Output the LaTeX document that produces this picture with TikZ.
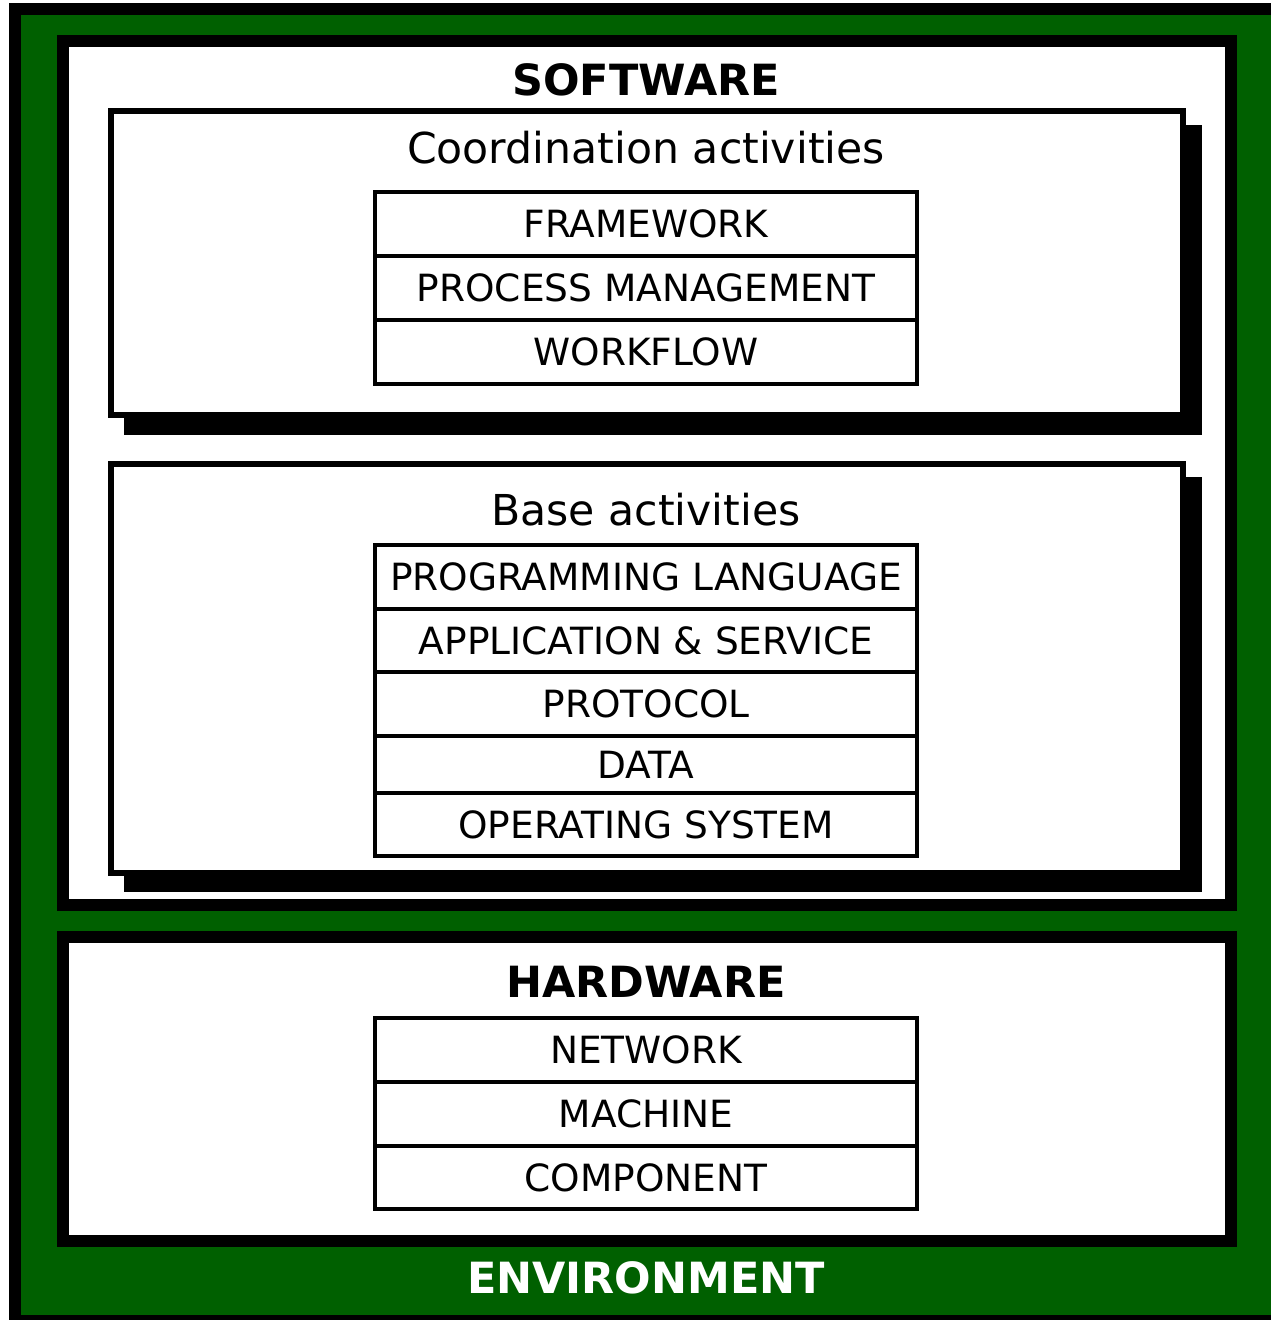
\documentclass[tikz,border=0pt]{standalone}
\usepackage{fontspec}
\setmainfont{DejaVu Sans}
\usetikzlibrary{positioning}
\definecolor{envgreen}{RGB}{0,96,0}

\tikzset{
  layer/.style={draw=black, fill=white, line width=12pt},
  group/.style={draw=black, fill=white, line width=6pt},
  groupshadow/.style={fill=black},
  row/.style={draw, line width=4pt, fill=white, minimum width=541.5pt, minimum height=64pt,
    inner sep=0pt, text height=27.3pt, text depth=0pt, font=\fontsize{37.5}{42}\selectfont},
  head/.style={inner sep=0pt, text height=31.3pt, text depth=0pt, font=\fontsize{43}{48}\selectfont\bfseries},
  title/.style={inner sep=0pt, text height=31pt, text depth=0pt, font=\fontsize{42.6}{48}\selectfont}
}

\begin{document}
\begin{tikzpicture}[x=1pt, y=-1pt]
   \useasboundingbox (0,0) rectangle (1271,1320);
   % environment
   \draw[line width=12pt, fill=envgreen] (15,9) rectangle (1295,1321);
   \node[head, text=white] (env) at (646,1277.5) {ENVIRONMENT};
   % software
   \draw[layer] (63,41) rectangle (1231,905);
   \node[head] (sw) at (646,80) {SOFTWARE};
   \fill[groupshadow] (124,125) rectangle (1202,435);
   \draw[group] (111,111) rectangle (1183,415);
   \node[title] (coord) at (646,148) {Coordination activities};
   \node[row] (fw) at (646,224) {FRAMEWORK};
   \node[row] (pm) at (646,288) {PROCESS MANAGEMENT};
   \node[row] (wf) at (646,352) {WORKFLOW};
   \fill[groupshadow] (124,477) rectangle (1202,892);
   \draw[group] (111,464) rectangle (1183,873);
   \node[title] (base) at (646,510) {Base activities};
   \node[row] (pl) at (646,577) {PROGRAMMING LANGUAGE};
   \node[row, minimum height=63pt] (as) at (646,640.5) {APPLICATION \& SERVICE};
   \node[row] (pr) at (646,704) {PROTOCOL};
   \node[row, minimum height=57pt] (da) at (646,764.5) {DATA};
   \node[row, minimum height=63pt] (os) at (646,824.5) {OPERATING SYSTEM};
   % hardware
   \draw[layer] (63,937) rectangle (1231,1241);
   \node[head] (hw) at (646,982) {HARDWARE};
   \node[row] (nw) at (646,1050) {NETWORK};
   \node[row] (ma) at (646,1114) {MACHINE};
   \node[row, minimum height=63pt] (co) at (646,1177.5) {COMPONENT};
\end{tikzpicture}
\end{document}
